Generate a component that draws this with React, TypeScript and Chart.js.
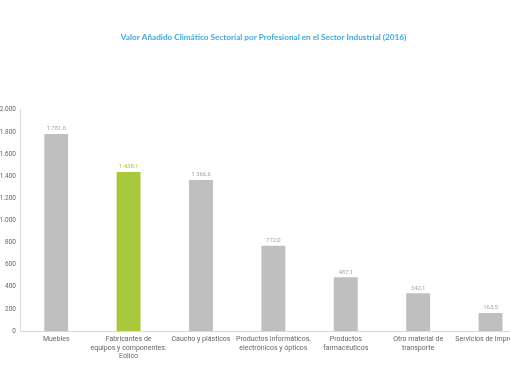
import React, { useEffect, useRef } from "react";
import { Chart, registerables } from "chart.js";

Chart.register(...registerables);

const TITLE = "Valor Añadido Climático Sectorial por Profesional en el Sector Industrial (2016)";
const CATEGORIES: string[][] = [
  ["Muebles"],
  ["Fabricantes de", "equipos y componentes:", "Eólico"],
  ["Caucho y plásticos"],
  ["Productos informáticos,", "electrónicos y ópticos"],
  ["Productos", "farmacéuticos"],
  ["Otro material de", "transporte"],
  ["Servicios de impresión"],
];
const VALUES = [1781.6, 1438.1, 1366.6, 772.0, 487.1, 342.1, 163.5];
const HIGHLIGHT_INDEX = 1;
const Y_MIN = 0;
const Y_MAX = 2000;
const Y_STEP = 200;

const GRAY = "#bfbfbf";
const GREEN = "#a9c83c";

const fmtValue = (v: number) =>
  v.toLocaleString("de-DE", { minimumFractionDigits: 1, maximumFractionDigits: 1 });
const fmtTick = (v: number) => v.toLocaleString("de-DE");

const valueLabels = {
  id: "valueLabels",
  afterDatasetsDraw(chart: any) {
    const ctx = chart.ctx;
    const meta = chart.getDatasetMeta(0);
    ctx.save();
    ctx.font = "6px Roboto";
    ctx.textAlign = "center";
    ctx.textBaseline = "bottom";
    meta.data.forEach((bar: any, i: number) => {
      ctx.fillStyle = i === HIGHLIGHT_INDEX ? GREEN : "#a6a6a6";
      ctx.fillText(fmtValue(VALUES[i]), bar.x, bar.y - 2);
    });
    ctx.restore();
  },
};

export default function App() {
  const ref = useRef<HTMLCanvasElement>(null);
  useEffect(() => {
    if (!ref.current) return;
    const chart = new Chart(ref.current, {
      type: "bar",
      data: {
        labels: CATEGORIES,
        datasets: [
          {
            data: VALUES,
            backgroundColor: VALUES.map((_, i) => (i === HIGHLIGHT_INDEX ? GREEN : GRAY)),
            categoryPercentage: 1,
            barPercentage: 0.33,
          },
        ],
      },
      options: {
        responsive: false,
        animation: false,
        layout: { padding: { left: 0, right: 3, top: 0, bottom: 0 } },
        plugins: {
          legend: { display: false },
          tooltip: { enabled: false },
          title: {
            display: true,
            text: TITLE,
            color: "#41a9dd",
            font: { family: "Lato", size: 8.2, weight: "bold", lineHeight: 1.2 },
            padding: { top: 32, bottom: 68 },
          },
        },
        scales: {
          x: {
            grid: { display: false, drawTicks: false },
            border: { display: true, color: "#d9d9d9" },
            ticks: {
              color: "#666",
              font: { family: "Roboto", size: 7, lineHeight: 1.22 },
              maxRotation: 0,
              minRotation: 0,
              autoSkip: false,
              padding: 4,
            },
            afterFit(scale: any) {
              scale.height = 51;
            },
          },
          y: {
            min: Y_MIN,
            max: Y_MAX,
            grid: { display: false, drawTicks: false },
            border: { display: true, color: "#d9d9d9" },
            ticks: {
              stepSize: Y_STEP,
              color: "#666",
              font: { family: "Roboto", size: 6.5 },
              padding: 4,
              callback: (v: any) => fmtTick(Number(v)),
            },
            afterFit(scale: any) {
              scale.width = 20;
            },
          },
        },
      },
      plugins: [valueLabels],
    });
    return () => chart.destroy();
  }, []);
  return (
    <div
      style={{
        position: "fixed",
        left: 0,
        top: 0,
        width: 510,
        height: 382,
        overflow: "hidden",
        background: "#fff",
      }}
    >
      <canvas ref={ref} width={530} height={382} style={{ display: "block" }} />
    </div>
  );
}
